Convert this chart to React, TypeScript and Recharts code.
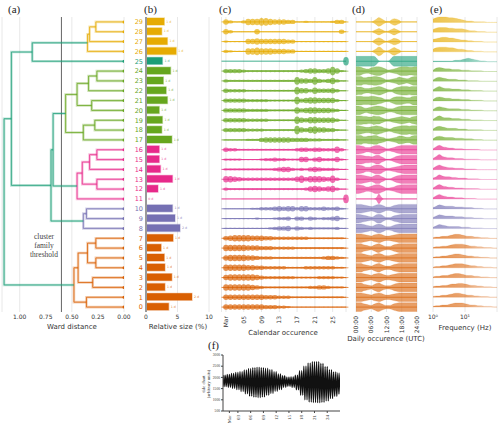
import React from "react";
import {
  ComposedChart,
  ScatterChart,
  BarChart,
  LineChart,
  Line,
  Scatter,
  Bar,
  Area,
  XAxis,
  YAxis,
  ZAxis,
  CartesianGrid,
  ReferenceLine,
  Cell,
  LabelList,
} from "recharts";

// Dark2 palette: orange, purple, pink, green, teal, yellow families
const FAMILY_COLORS = ["#d95f02", "#7570b3", "#e7298a", "#66a61e", "#1b9e77", "#e6ab02"];
const UPPER_LINK_COLOR = "#1b9e77";

// family of cluster 0..29
const CLUSTER_FAMILY = [0, 0, 0, 0, 0, 0, 0, 0, 1, 1, 1, 2, 2, 2, 2, 2, 2, 3, 3, 3, 3, 3, 3, 3, 3, 4, 5, 5, 5, 5];

// relative size (%) of cluster 0..29
const RELATIVE_SIZE = [
  3.6, 7.3, 3.0, 4.1, 3.0, 2.9, 2.4, 4.3, 5.4, 4.6, 4.2, 0.05, 1.9, 4.2, 2.3, 2.1, 2.1, 4.1, 2.5, 2.6, 2.1, 3.4, 3.2,
  2.75, 3.9, 2.6, 4.8, 3.4, 2.5, 2.9,
];
const SIZE_TAGS = [
  "1 d", "2 d", "1 d", "1 d", "1 d", "1 d", "1 d", "1 d", "2 d", "1 d", "1 d", "0 d", "1 d", "1 d", "1 d",
  "1 d", "1 d", "1 d", "1 d", "1 d", "1 d", "1 d", "1 d", "1 d", "1 d", "1 d", "1 d", "1 d", "1 d", "1 d",
];

// ward linkage: [child a, child b, distance]; new nodes numbered from 30
const LINKAGE: [number, number, number][] = [
  [28, 29, 0.27], // 30
  [27, 30, 0.33], // 31
  [26, 31, 0.35], // 32
  [25, 32, 0.88], // 33
  [23, 24, 0.26], // 34
  [22, 34, 0.34], // 35
  [20, 21, 0.31], // 36
  [36, 35, 0.45], // 37
  [18, 19, 0.28], // 38
  [17, 38, 0.39], // 39
  [39, 37, 0.56], // 40
  [15, 16, 0.26], // 41
  [14, 41, 0.33], // 42
  [12, 13, 0.26], // 43
  [43, 42, 0.4], // 44
  [11, 44, 0.45], // 45
  [45, 40, 0.68], // 46
  [9, 10, 0.36], // 47
  [8, 47, 0.39], // 48
  [48, 46, 0.7], // 49
  [33, 49, 1.08], // 50
  [6, 7, 0.27], // 51
  [4, 5, 0.27], // 52
  [52, 51, 0.35], // 53
  [2, 3, 0.3], // 54
  [54, 53, 0.44], // 55
  [0, 1, 0.36], // 56
  [56, 55, 0.48], // 57
  [57, 50, 1.15], // 58
];
const THRESHOLD = 0.6;

// calendar occurrence, one digit per day (Mar 1..28), cluster 0..29
const CAL_DAYS = [1, 2, 3, 4, 5, 6, 7, 8, 9, 10, 11, 12, 13, 14, 15, 16, 17, 18, 19, 20, 21, 22, 23, 24, 25, 26, 27, 28];
const CAL_ROWS = [
  "5555555554443321111111111111",
  "5555555554443332222222222221",
  "6666665432222222222334432221",
  "5666666543333333222223333221",
  "6666655443333322223333333221",
  "5666655433322222222222344321",
  "6666655544433333222222222221",
  "4566665554433333333222222221",
  "1111111111234452432322222311",
  "1111111211123341442432334521",
  "1111112233345455355333433421",
  "0000000000000000000000000008",
  "3222222222222222223565456311",
  "6654333333333333574666547311",
  "2222222222234553232454333211",
  "2222111123343322255245333521",
  "4332222222222222344344333631",
  "1111122245555554444333222211",
  "4444433332222222854675544211",
  "4444433333222222754665555311",
  "4444433333222222645665554311",
  "4444433333222222745665555311",
  "4333322222222222755364445311",
  "3222222222222222755474346311",
  "4444322222222222234554458521",
  "0000000000000000000000000008",
  "3211166766655544111111111111",
  "2111155655555544111111111111",
  "5311111511111111111111111141",
  "5311366677655544112111112441",
];

// daily occurrence, one digit per hour (00..24 UTC)
const HOURS = [0, 1, 2, 3, 4, 5, 6, 7, 8, 9, 10, 11, 12, 13, 14, 15, 16, 17, 18, 19, 20, 21, 22, 23, 24];
const DAILY_ROWS = [
  "8886543578643346788888888",
  "8887654678754456788888888",
  "8886543578643346788888888",
  "8887654678754456788888888",
  "8886543578643346788888888",
  "8887654678754456788888888",
  "8886543578643346788888888",
  "8887654678754456788888888",
  "8887654578753346788888888",
  "8876543478742235678888888",
  "8887654578753346788888888",
  "0000000029300000000000000",
  "8876445788642234678888888",
  "8887654688531124678888888",
  "8876445788742234567888888",
  "8887665688531124678888888",
  "8876445788642234678888888",
  "8886677886542234577655788",
  "8876556787643235678887888",
  "8887766877532234567654678",
  "8875456788764334678888888",
  "8887778876532246777655788",
  "8775445678753224678887888",
  "8886677887642234576545788",
  "8875446788753234578887788",
  "9999999961000169999999999",
  "0000000258621257530000000",
  "0000000257521246530000000",
  "0000000246421246420000000",
  "0000000258631146530000000",
];

// frequency content, one digit per frequency bin (Hz)
const FREQS = [1, 1.26, 1.58, 2, 2.5, 3.2, 4, 5, 6.3, 8, 10, 12.6, 16, 20, 25, 32, 40, 50, 63, 80, 100];
const FREQ_ROWS = [
  "122334566654332211100",
  "122334566543322111000",
  "122334556654332211100",
  "122334566543322111000",
  "122334566654332211100",
  "122334566543322111000",
  "122334566654332211100",
  "122334566543322111000",
  "246543333222111100000",
  "246544433322211100000",
  "246544433322211100000",
  "257543322211110000000",
  "257543322211111000000",
  "247544332221111000000",
  "257543322211110000000",
  "258543322211111000000",
  "257543322211111000000",
  "256544433322211100000",
  "256543332221111100000",
  "257544333222111100000",
  "256543333222111100000",
  "256544333222111100000",
  "257544333222111100000",
  "256543332221111000000",
  "256544333222111100000",
  "111111122345432110000",
  "467776654432211100000",
  "456776654332211100000",
  "467776655543221110000",
  "578887765432211110000",
];

// tide chart: daily high and low water level (arbitrary units), day index = March date
const TIDE_HIGH = [
  2100, 2130, 2180, 2220, 2260, 2330, 2400, 2440, 2450, 2440, 2410, 2350, 2260, 2160, 2080, 2010, 2020, 2100, 2300,
  2500, 2640, 2700, 2700, 2620, 2480, 2350, 2250, 2200,
];
const TIDE_LOW = [
  1590, 1560, 1510, 1450, 1370, 1270, 1160, 1120, 1100, 1130, 1200, 1280, 1380, 1460, 1560, 1600, 1560, 1440, 1200,
  1000, 900, 880, 870, 890, 950, 1050, 1150, 1250,
];

const CAL_TICKS: Record<number, string> = { 1: "Mar", 5: "05", 9: "09", 13: "13", 17: "17", 21: "21", 25: "25" };
const HOUR_TICKS: Record<number, string> = { 0: "00:00", 6: "06:00", 12: "12:00", 18: "18:00", 24: "24:00" };
const FREQ_TICKS: Record<number, string> = { 1: "10\u2070", 10: "10\u00b9" };
const TIDE_TICKS: Record<number, string> = {
  1: "Mar", 3: "03", 6: "06", 9: "09", 12: "12", 15: "15", 18: "18", 21: "21", 24: "24",
};

const ROWS = CLUSTER_FAMILY.map((_, i) => i);
const colorOf = (cluster: number) => FAMILY_COLORS[CLUSTER_FAMILY[cluster]];
const digit = (s: string, k: number) => Number(s[k]) / 9;

// dendrogram links built from the linkage table
const nodeY: number[] = ROWS.slice();
const nodeH: number[] = ROWS.map(() => 0);
const nodeFam: number[] = CLUSTER_FAMILY.slice();
const LINKS = LINKAGE.map(([a, b, h]) => {
  const fam = nodeFam[a] === nodeFam[b] && h < THRESHOLD ? nodeFam[a] : -1;
  const points = [
    { d: nodeH[a], y: nodeY[a] },
    { d: h, y: nodeY[a] },
    { d: h, y: nodeY[b] },
    { d: nodeH[b], y: nodeY[b] },
  ];
  nodeY.push((nodeY[a] + nodeY[b]) / 2);
  nodeH.push(h);
  nodeFam.push(fam);
  return { fam, points };
});
const LEAVES = ROWS.map((r) => ({ d: 0, y: r }));

const BAR_DATA = ROWS.map((r) => ({ id: String(r), size: RELATIVE_SIZE[r], tag: SIZE_TAGS[r] })).reverse();

const CAL_POINTS = ROWS.flatMap((r) =>
  CAL_DAYS.map((day, k) => ({ day, row: r, amp: Number(CAL_ROWS[r][k]) })).filter((p) => p.amp > 0)
);

const DAILY_TABLE = HOURS.map((hour, k) => {
  const o: Record<string, any> = { hour };
  ROWS.forEach((r) => {
    const v = digit(DAILY_ROWS[r], k) * 0.5;
    o[`r${r}`] = [r - v, r + v];
  });
  return o;
});

const FREQ_TABLE = FREQS.map((f, k) => {
  const o: Record<string, any> = { f };
  ROWS.forEach((r) => {
    o[`r${r}`] = [r, r + digit(FREQ_ROWS[r], k) * 0.62];
  });
  return o;
});

const TIDE_SERIES = TIDE_HIGH.flatMap((hi, i) => [
  { t: i - 0.5, v: hi },
  { t: i - 0.25, v: TIDE_LOW[i] },
  { t: i, v: hi },
  { t: i + 0.25, v: TIDE_LOW[i] },
]);

const SANS = "'DejaVu Sans', sans-serif";
const SERIF = "'Liberation Serif', 'DejaVu Serif', serif";
const GRID = "#e8e8e8";

const rotTick = (labels: Record<number, string>, size: number, font = SANS) => (p: any) => (
  <text
    x={p.x}
    y={p.y}
    transform={`rotate(-90 ${p.x} ${p.y})`}
    textAnchor="end"
    dy="0.35em"
    fontSize={size}
    fontFamily={font}
    fill="#333"
  >
    {labels[p.payload.value] ?? p.payload.value}
  </text>
);

const IdTick = (p: any) => (
  <text x={p.x} y={p.y} textAnchor="end" dy="0.35em" fontSize={6.5} fontFamily={SANS} fill={colorOf(Number(p.payload.value))}>
    {p.payload.value}
  </text>
);

const TagLabel = (p: any) => {
  const c = colorOf(Number(BAR_DATA[p.index].id));
  return (
    <text x={p.x + p.width + 2} y={p.y + p.height / 2} dy="0.35em" fontSize={3.2} fontFamily={SANS} fill={c} opacity={0.8}>
      {p.value}
    </text>
  );
};

const LeafDot = (p: any) => <circle cx={p.cx} cy={p.cy} r={1.5} fill={colorOf(p.payload.y)} />;

const Blob = (p: any) => {
  const ry = typeof p.size === "number" ? p.size : p.payload.amp * 0.54;
  return <ellipse cx={p.cx} cy={p.cy} rx={2.8} ry={Math.max(ry, 0.45)} fill={colorOf(p.payload.row)} fillOpacity={0.68} />;
};

const Title = ({ x, y, text, size = 7 }: { x: number; y: number; text: string; size?: number }) => (
  <div
    style={{
      position: "absolute",
      left: x - 70,
      top: y - 5,
      width: 140,
      textAlign: "center",
      fontSize: size,
      lineHeight: "10px",
      fontFamily: SANS,
      color: "#333",
      whiteSpace: "nowrap",
    }}
  >
    {text}
  </div>
);

const Letter = ({ x, y, text }: { x: number; y: number; text: string }) => (
  <div style={{ position: "absolute", left: x, top: y, fontSize: 11, fontFamily: SERIF, color: "#222", lineHeight: "12px" }}>
    {text}
  </div>
);

const at = (left: number, top: number): React.CSSProperties => ({ position: "absolute", left, top });

export default function App() {
  const fade = (c: number) => `fade${c}`;
  return (
    <div style={{ position: "absolute", left: 0, top: 0, width: 500, height: 428, background: "#fff", overflow: "hidden" }}>
      <style>{".recharts-surface{overflow:visible}"}</style>

      {/* (a) dendrogram */}
      <div style={at(0, 0)}>
        <ComposedChart width={130} height={345} margin={{ top: 17, right: 6, bottom: 5, left: 2 }}>
          <CartesianGrid horizontal={false} stroke={GRID} />
          <XAxis
            type="number"
            dataKey="d"
            domain={[0, 1.17]}
            allowDataOverflow
            reversed
            ticks={[0, 0.25, 0.5, 0.75, 1]}
            tickFormatter={(v: number) => v.toFixed(2)}
            axisLine={false}
            tickLine={false}
            tickSize={0}
            tickMargin={3}
            height={28}
            tick={{ fontSize: 6, fill: "#333", fontFamily: SANS }}
          />
          <YAxis type="number" dataKey="y" domain={[-0.5, 29.5]} hide />
          <ReferenceLine x={THRESHOLD} stroke="#666" strokeWidth={1} />
          {LINKS.map((l, i) => (
            <Line
              key={`h${i}`}
              data={l.points}
              dataKey="y"
              type="linear"
              dot={false}
              stroke={l.fam < 0 ? UPPER_LINK_COLOR : FAMILY_COLORS[l.fam]}
              strokeOpacity={0.3}
              strokeWidth={2.6}
              isAnimationActive={false}
            />
          ))}
          {LINKS.map((l, i) => (
            <Line
              key={`l${i}`}
              data={l.points}
              dataKey="y"
              type="linear"
              dot={false}
              stroke={l.fam < 0 ? UPPER_LINK_COLOR : FAMILY_COLORS[l.fam]}
              strokeOpacity={0.85}
              strokeWidth={0.9}
              isAnimationActive={false}
            />
          ))}
          <Scatter data={LEAVES} shape={LeafDot} isAnimationActive={false} />
        </ComposedChart>
      </div>

      {/* (b) relative size */}
      <div style={at(124, 0)}>
        <BarChart layout="vertical" width={92} height={345} data={BAR_DATA} margin={{ top: 17, right: 7, bottom: 5, left: 0 }}>
          <CartesianGrid horizontal={false} stroke={GRID} />
          <XAxis
            type="number"
            domain={[0, 10]}
            ticks={[0, 5, 10]}
            axisLine={false}
            tickLine={false}
            tickSize={0}
            tickMargin={3}
            height={28}
            tick={{ fontSize: 6, fill: "#333", fontFamily: SANS }}
          />
          <YAxis type="category" dataKey="id" width={22} axisLine={false} tickLine={false} tickSize={0} tickMargin={3} interval={0} tick={IdTick} />
          <ReferenceLine x={0} stroke="#9a9a9a" strokeWidth={2} />
          <Bar dataKey="size" barSize={7} isAnimationActive={false}>
            {BAR_DATA.map((d) => (
              <Cell key={d.id} fill={colorOf(Number(d.id))} stroke={colorOf(Number(d.id))} strokeOpacity={0.35} strokeWidth={1.4} />
            ))}
            <LabelList dataKey="tag" content={TagLabel} />
          </Bar>
        </BarChart>
      </div>

      {/* (c) calendar occurrence */}
      <div style={at(216, 0)}>
        <ScatterChart width={136} height={345} margin={{ top: 17, right: 6, bottom: 5, left: 5.5 }}>
          <CartesianGrid horizontal={false} stroke={GRID} />
          <XAxis
            type="number"
            dataKey="day"
            domain={[0, 28]}
            ticks={[1, 5, 9, 13, 17, 21, 25]}
            interval={0}
            axisLine={false}
            tickLine={false}
            tickSize={0}
            tickMargin={4}
            height={28}
            tick={rotTick(CAL_TICKS, 6)}
          />
          <YAxis type="number" dataKey="row" domain={[-0.5, 29.5]} width={0} tick={false} tickLine={false} axisLine={{ stroke: "#999", strokeWidth: 1.5 }} />
          <ZAxis type="number" dataKey="amp" domain={[0, 9]} range={[0, 4.9]} />
          {ROWS.map((r) => (
            <ReferenceLine
              key={r}
              y={r}
              stroke={colorOf(r)}
              strokeOpacity={r === 11 || r === 25 ? 0.55 : 0.85}
              strokeWidth={r === 11 || r === 25 ? 1.6 : 0.9}
            />
          ))}
          <Scatter data={CAL_POINTS} shape={Blob} isAnimationActive={false} />
        </ScatterChart>
      </div>

      {/* (d) daily occurrence */}
      <div style={at(350, 0)}>
        <ComposedChart width={72} height={345} data={DAILY_TABLE} margin={{ top: 17, right: 5, bottom: 5, left: 6 }}>
          <CartesianGrid horizontal={false} stroke={GRID} />
          <XAxis
            type="number"
            dataKey="hour"
            domain={[0, 24]}
            ticks={[0, 6, 12, 18, 24]}
            interval={0}
            axisLine={false}
            tickLine={false}
            tickSize={0}
            tickMargin={4}
            height={28}
            tick={rotTick(HOUR_TICKS, 6)}
          />
          <YAxis type="number" domain={[-0.5, 29.5]} width={0} tick={false} tickLine={false} axisLine={{ stroke: "#999", strokeWidth: 1.5 }} />
          {ROWS.map((r) => (
            <ReferenceLine key={`b${r}`} y={r} stroke={colorOf(r)} strokeOpacity={0.8} strokeWidth={0.8} />
          ))}
          {ROWS.map((r) => (
            <Area
              key={r}
              dataKey={`r${r}`}
              type="monotone"
              fill={colorOf(r)}
              fillOpacity={0.6}
              stroke={colorOf(r)}
              strokeOpacity={0.5}
              strokeWidth={0.4}
              isAnimationActive={false}
            />
          ))}
        </ComposedChart>
      </div>

      {/* (e) frequency */}
      <div style={at(427, 0)}>
        <ComposedChart width={73} height={345} data={FREQ_TABLE} margin={{ top: 17, right: 3, bottom: 5, left: 6 }}>
          <defs>
            {FAMILY_COLORS.map((c, i) => (
              <linearGradient key={i} id={fade(i)} x1="0" y1="0" x2="1" y2="0">
                <stop offset="0%" stopColor={c} stopOpacity={0.7} />
                <stop offset="55%" stopColor={c} stopOpacity={0.55} />
                <stop offset="100%" stopColor={c} stopOpacity={0.08} />
              </linearGradient>
            ))}
          </defs>
          <CartesianGrid horizontal={false} stroke={GRID} />
          <XAxis
            type="number"
            dataKey="f"
            scale="log"
            domain={[1, 100]}
            allowDataOverflow
            ticks={[1, 10]}
            interval={0}
            axisLine={false}
            tickLine={false}
            tickSize={0}
            tickMargin={3}
            height={28}
            tickFormatter={(v: number) => FREQ_TICKS[v] ?? String(v)}
            tick={{ fontSize: 6, fill: "#333", fontFamily: SANS }}
          />
          <YAxis type="number" domain={[-0.5, 29.5]} width={0} tick={false} tickLine={false} axisLine={{ stroke: "#999", strokeWidth: 1.5 }} />
          {ROWS.map((r) => (
            <Area
              key={r}
              dataKey={`r${r}`}
              type="monotone"
              fill={`url(#${fade(CLUSTER_FAMILY[r])})`}
              fillOpacity={1}
              stroke={colorOf(r)}
              strokeOpacity={0.35}
              strokeWidth={0.5}
              isAnimationActive={false}
            />
          ))}
        </ComposedChart>
      </div>

      {/* (f) tide chart */}
      <div style={at(180, 340)}>
        <LineChart width={165} height={88} data={TIDE_SERIES} margin={{ top: 15, right: 5, bottom: 2, left: 13 }}>
          <XAxis
            type="number"
            dataKey="t"
            domain={[-0.5, 27]}
            allowDataOverflow
            ticks={[1, 3, 6, 9, 12, 15, 18, 21, 24]}
            interval={0}
            height={15}
            stroke="#444"
            tickSize={2}
            tickMargin={2}
            tick={rotTick(TIDE_TICKS, 5, SERIF)}
          />
          <XAxis xAxisId="top" orientation="top" type="number" dataKey="t" domain={[-0.5, 27]} allowDataOverflow height={0} tick={false} tickLine={false} stroke="#444" />
          <YAxis
            type="number"
            domain={[500, 3000]}
            ticks={[500, 1000, 1500, 2000, 2500, 3000]}
            width={30}
            stroke="#444"
            tickSize={2}
            tickMargin={1}
            tick={{ fontSize: 3.6, fill: "#333", fontFamily: SERIF }}
          />
          <YAxis yAxisId="right" orientation="right" domain={[500, 3000]} width={0} tick={false} tickLine={false} stroke="#444" />
          <Line dataKey="v" type="monotone" stroke="#111" strokeWidth={1.3} dot={false} isAnimationActive={false} />
        </LineChart>
      </div>

      {/* panel letters and titles */}
      <Letter x={8} y={3} text="(a)" />
      <Letter x={144} y={3} text="(b)" />
      <Letter x={219} y={3} text="(c)" />
      <Letter x={352} y={3} text="(d)" />
      <Letter x={430} y={3} text="(e)" />
      <Letter x={208} y={339} text="(f)" />

      <div
        style={{
          position: "absolute",
          left: 18,
          top: 232,
          width: 52,
          textAlign: "center",
          fontFamily: SERIF,
          fontSize: 7.5,
          lineHeight: "9px",
          color: "#444",
        }}
      >
        cluster
        <br />
        family
        <br />
        threshold
      </div>

      <Title x={72} y={327} text="Ward distance" />
      <Title x={178} y={327} text="Relative size (%)" />
      <Title x={283} y={333} text="Calendar occurence" />
      <Title x={386} y={339} text="Daily occurence (UTC)" />
      <Title x={465} y={328} text="Frequency (Hz)" />

      <div
        style={{
          position: "absolute",
          left: 184,
          top: 379,
          width: 44,
          textAlign: "center",
          transform: "rotate(-90deg)",
          fontFamily: SERIF,
          fontSize: 4.5,
          lineHeight: "5px",
          color: "#333",
        }}
      >
        tide chart
        <br />
        (arbitrary units)
      </div>
    </div>
  );
}
